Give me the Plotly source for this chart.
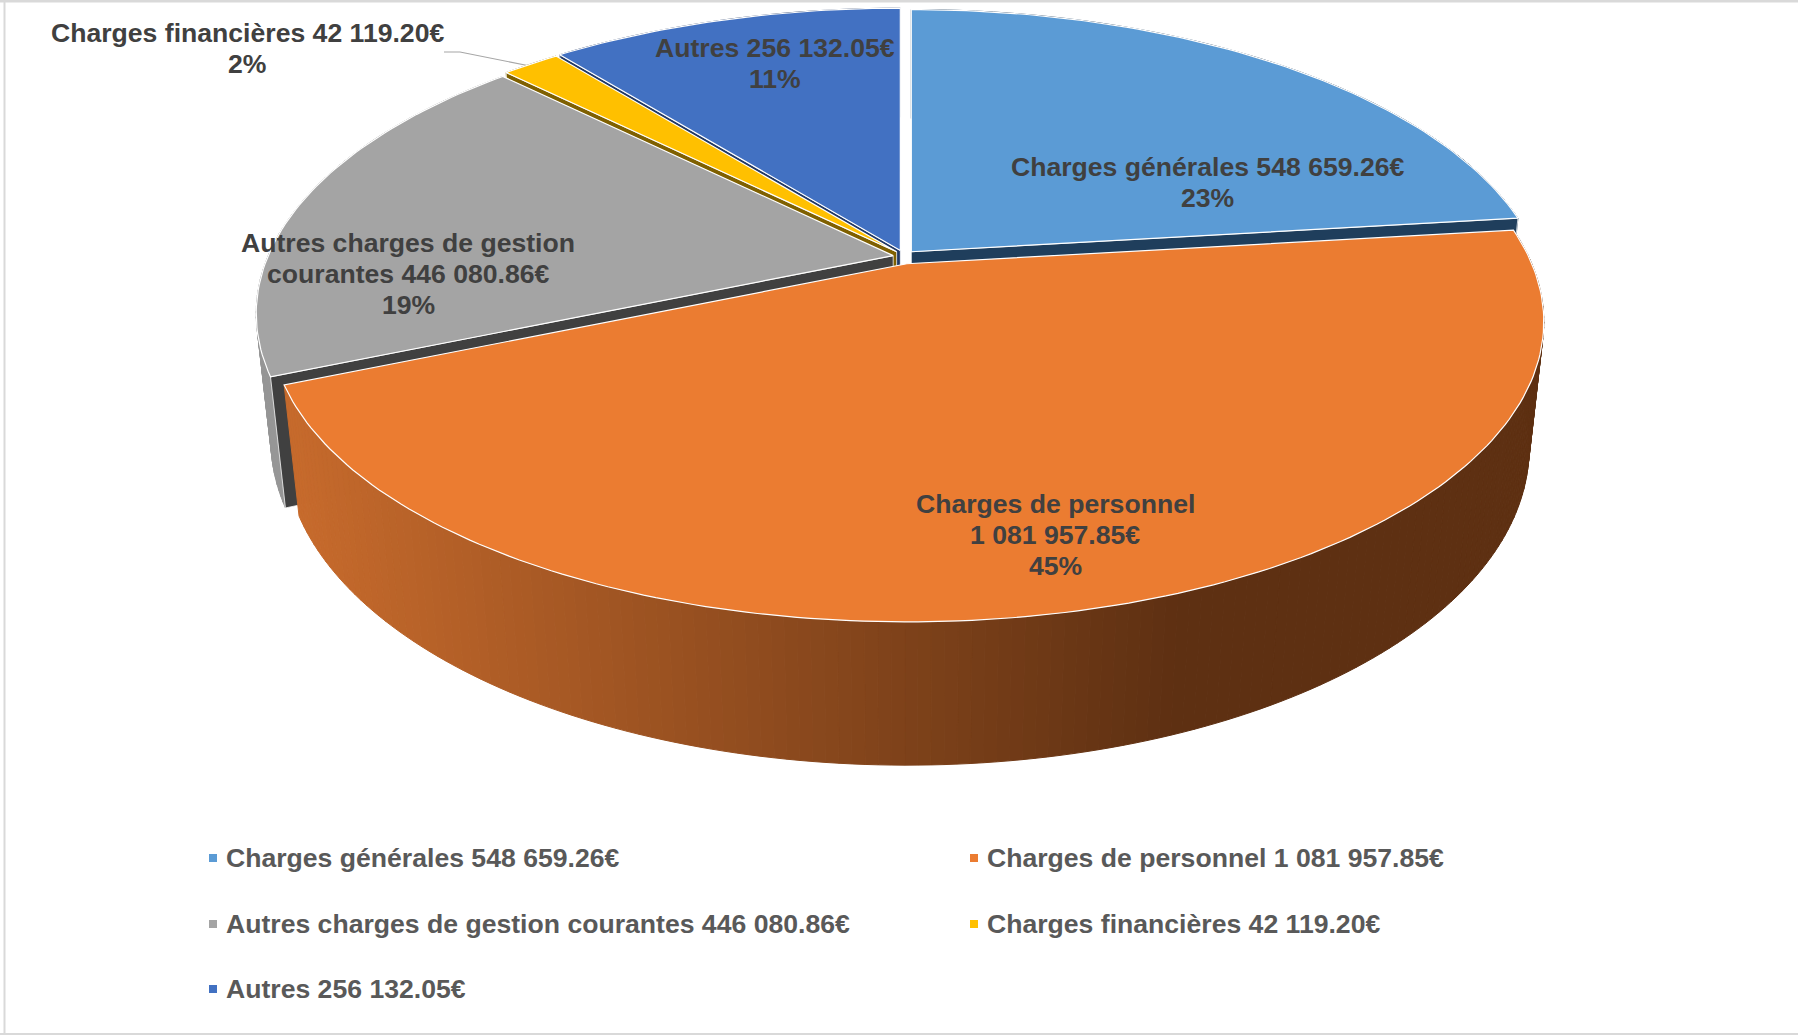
import math
import plotly.graph_objects as go

# ---- data ----
categories = ["Charges générales", "Charges de personnel",
              "Autres charges de gestion courantes", "Charges financières", "Autres"]
values = [548659.26, 1081957.85, 446080.86, 42119.20, 256132.05]
percent_labels = ["23%", "45%", "19%", "2%", "11%"]
top_colors = ["#5B9BD5", "#EB7C31", "#A4A4A4", "#FFC000", "#4271C2"]
wall_colors = ["#1F3E5C", "#843C0C", "#404040", "#7F6000", "#203864"]

total = sum(values)
W, H = 1798, 1035

# ---- perspective model of the tilted disc (pixel axes) ----
CX, CY = 904, 257      # pie axis on the top face
A, B, P = 625, 289, 0.193
DROP, Q = 127, 0.0227  # extrusion of the disc
EX, EY = 11, 7         # explosion


def project(theta, r, depth, off):
    u, v = r * math.sin(theta), r * math.cos(theta)
    w = 1 + P * v + Q * depth
    return (off[0] + A * u / w, off[1] + (-B * v + DROP * depth) / w)


def money(v):
    return f"{v:,.2f}".replace(",", " ") + "€"


def mix(c1, c2, t):
    t = max(0, min(1, t))
    return "rgb(%d,%d,%d)" % tuple(round(a + (b - a) * t) for a, b in zip(c1, c2))


def poly(xs, ys, fill, line=None, lw=0.0, name=""):
    return go.Scatter(x=xs, y=ys, mode="lines", fill="toself", fillcolor=fill,
                      line=dict(color=line or fill, width=lw), name=name,
                      hoverinfo="skip", showlegend=False)


# slice angles derive from the values
slices = []
start = 0.0
for cat, val, top, wall in zip(categories, values, top_colors, wall_colors):
    sweep = val / total * 2 * math.pi
    mid = start + sweep / 2
    off = (CX + EX * math.sin(mid), CY - EY * math.cos(mid))
    slices.append(dict(cat=cat, a0=start, a1=start + sweep, mid=mid, off=off, top=top, wall=wall))
    start += sweep

traces = []


def arc_steps(s):
    n = max(4, int(math.degrees(s["a1"] - s["a0"])))
    return [s["a0"] + (s["a1"] - s["a0"]) * i / n for i in range(n + 1)]


def draw_slice(s):
    angs = arc_steps(s)
    off = s["off"]
    # outer curved wall
    for a, b in zip(angs[:-1], angs[1:]):
        pts = [project(a, 1, 0, off), project(b, 1, 0, off), project(b, 1, 1, off), project(a, 1, 1, off)]
        xm = sum(p[0] for p in pts) / 4
        if s["cat"] == categories[1]:
            col = mix((198, 106, 44), (94, 48, 18), (xm - 300) / (1174 - 300))
        elif s["cat"] == categories[2]:
            col = "#969696"
        else:
            col = s["wall"]
        traces.append(poly([p[0] for p in pts] + [pts[0][0]], [p[1] for p in pts] + [pts[0][1]], col, lw=1,
                           name=s["cat"] + " side"))
    # the one cut wall facing the viewer (the front slice shows none)
    if s["cat"] == categories[1]:
        return
    a = s["a1"] if math.sin(s["mid"]) > 0 else s["a0"]
    pts = [(off[0], off[1]), project(a, 1, 0, off), project(a, 1, 1, off),
           (off[0], off[1] + DROP / (1 + Q))]
    traces.append(poly([p[0] for p in pts] + [pts[0][0]], [p[1] for p in pts] + [pts[0][1]],
                       s["wall"], line="#FFFFFF", lw=0.75, name=s["cat"] + " cut"))


def draw_top(s):
    angs = arc_steps(s)
    off = s["off"]
    rim = [project(a, 1, 0, off) for a in angs]
    xs = [off[0]] + [p[0] for p in rim] + [off[0]]
    ys = [off[1]] + [p[1] for p in rim] + [off[1]]
    traces.append(poly(xs, ys, s["top"], line="#FFFFFF", lw=1.2, name=s["cat"]))


# painter's order, back to front
for i in (4, 3, 2, 0, 1):
    draw_slice(slices[i])
    draw_top(slices[i])

# ---- legend swatches ----
legend_pos = [(213, 858), (974, 858), (213, 924), (974, 924), (213, 989)]
for (lx, ly), col, cat in zip(legend_pos, top_colors, categories):
    traces.append(go.Scatter(x=[lx], y=[ly], mode="markers", hoverinfo="skip", showlegend=False, name=cat,
                             marker=dict(symbol="square", size=8, color=col, line=dict(width=0))))

FONT = "Liberation Sans"
annotations = []
LINE = 31


def note(x, y, lines, color, anchor="center"):
    top = y - LINE * (len(lines) - 1) / 2
    for k, text in enumerate(lines):
        annotations.append(dict(x=x, y=top + k * LINE, xref="x", yref="y", text=f"<b>{text}</b>", showarrow=False,
                                xanchor=anchor, yanchor="middle", align="center",
                                font=dict(family=FONT, size=26.6, color=color)))


note(1207, 182, [f"{categories[0]} {money(values[0])}", percent_labels[0]], "#404040")
note(1055, 535, [categories[1], money(values[1]), percent_labels[1]], "#404040")
note(408, 274, ["Autres charges de gestion", f"courantes {money(values[2])}", percent_labels[2]], "#404040")
note(247, 48, [f"{categories[3]} {money(values[3])}", percent_labels[3]], "#404040")
note(775, 63, [f"{categories[4]} {money(values[4])}", percent_labels[4]], "#404040")

for (lx, ly), cat, val in zip(legend_pos, categories, values):
    note(lx + 11, ly, [f"{cat} {money(val)}"], "#595959", anchor="left")

shapes = [
    dict(type="path", path="M 444 52 L 460 52 L 530 66", line=dict(color="#A6A6A6", width=1.2), layer="below"),
    dict(type="line", x0=0, x1=W, y0=1, y1=1, line=dict(color="#D9D9D9", width=3), layer="below"),
    dict(type="line", x0=4.5, x1=4.5, y0=0, y1=H, line=dict(color="#D9D9D9", width=2), layer="below"),
    dict(type="line", x0=0, x1=W, y0=1034, y1=1034, line=dict(color="#D9D9D9", width=2), layer="below"),
]

fig = go.Figure(traces)
fig.update_layout(
    width=W, height=H, margin=dict(l=0, r=0, t=0, b=0), autosize=False,
    paper_bgcolor="white", plot_bgcolor="white", showlegend=False,
    xaxis=dict(range=[0, W], visible=False, fixedrange=True),
    yaxis=dict(range=[H, 0], visible=False, fixedrange=True),
    annotations=annotations, shapes=shapes,
)
fig.write_html("out.html", config=dict(displayModeBar=False),
               post_script="document.body.style.margin='0';")
